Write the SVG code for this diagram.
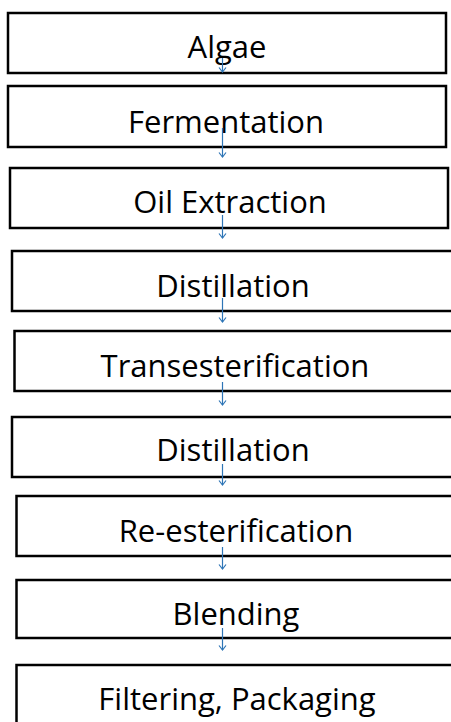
<svg xmlns="http://www.w3.org/2000/svg" width="451" height="722" viewBox="0 0 451 722">
<style>
.box{fill:none;stroke:#000;stroke-width:2.5}
.lbl{font-family:"Open Sans","Noto Sans",sans-serif;font-size:31px;fill:#000;text-anchor:middle}
.arr{stroke:#2e75b6;stroke-width:1.2;fill:none;marker-end:url(#ah)}
</style>
<defs>
<marker id="ah" markerWidth="10" markerHeight="10" refX="8" refY="5" markerUnits="userSpaceOnUse" orient="auto" viewBox="0 0 10 10">
<path d="M3.5,1.5 L8,5 L3.5,8.5" fill="none" stroke="#2e75b6" stroke-width="1.2"/>
</marker>
</defs>
<rect width="451" height="722" fill="#fff"/>
<g id="n1"><rect class="box" x="8" y="13" width="438" height="60"/><text class="lbl" x="227" y="58">Algae</text></g>
<g id="n2"><rect class="box" x="8" y="86" width="438" height="61"/><text class="lbl" x="226" y="133">Fermentation</text></g>
<g id="n3"><rect class="box" x="10" y="168" width="438" height="60"/><text class="lbl" x="230" y="213">Oil Extraction</text></g>
<g id="n4"><rect class="box" x="12" y="251" width="450" height="60"/><text class="lbl" x="233" y="297">Distillation</text></g>
<g id="n5"><rect class="box" x="14.5" y="331" width="450" height="60"/><text class="lbl" x="235" y="377">Transesterification</text></g>
<g id="n6"><rect class="box" x="12" y="417" width="450" height="60"/><text class="lbl" x="233" y="461">Distillation</text></g>
<g id="n7"><rect class="box" x="16.5" y="496" width="450" height="60"/><text class="lbl" x="236" y="542">Re-esterification</text></g>
<g id="n8"><rect class="box" x="16.5" y="580" width="450" height="58"/><text class="lbl" x="236" y="625">Blending</text></g>
<g id="n9"><rect class="box" x="16.5" y="665" width="450" height="80"/><text class="lbl" x="237" y="710">Filtering, Packaging</text></g>
<g id="connectors">
<line class="arr" x1="222.5" y1="58" x2="222.5" y2="72"/>
<line class="arr" x1="222.5" y1="128" x2="222.5" y2="157"/>
<line class="arr" x1="222.5" y1="215" x2="222.5" y2="238"/>
<line class="arr" x1="222.5" y1="298" x2="222.5" y2="322"/>
<line class="arr" x1="222.5" y1="382" x2="222.5" y2="405"/>
<line class="arr" x1="222.5" y1="464" x2="222.5" y2="485"/>
<line class="arr" x1="222.5" y1="547" x2="222.5" y2="569"/>
<line class="arr" x1="222.5" y1="628" x2="222.5" y2="650"/>
</g>
</svg>
